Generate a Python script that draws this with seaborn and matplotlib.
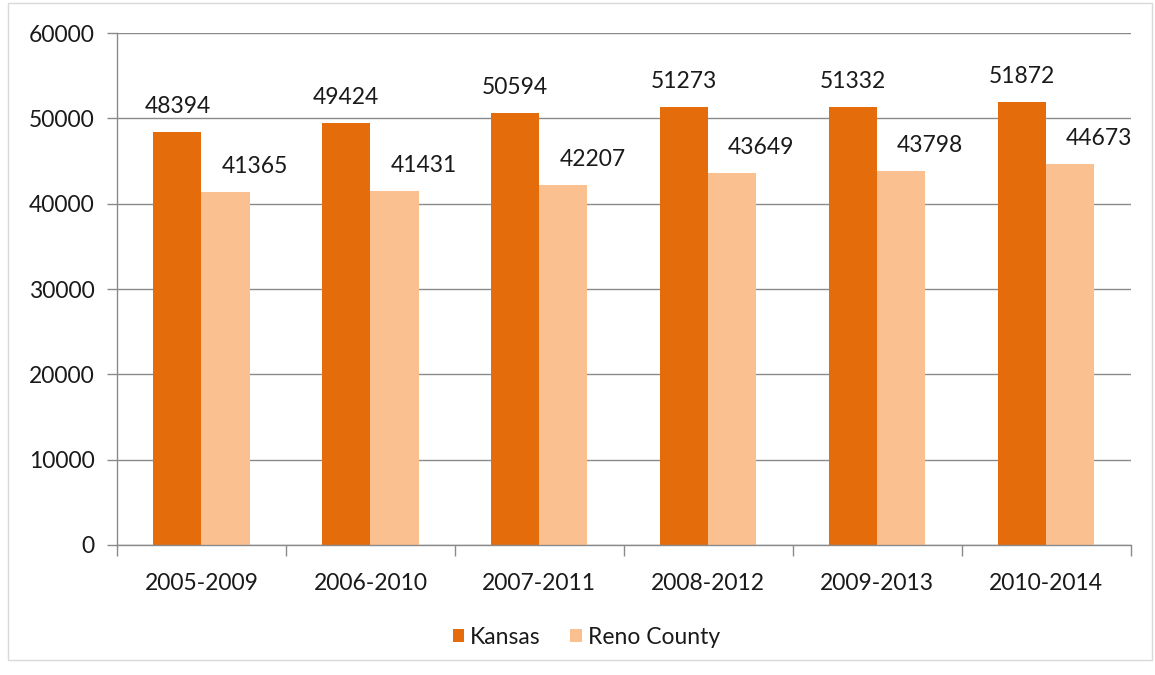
"""
Median household income: Kansas vs Reno County (5-year ACS periods).
"""

import matplotlib
matplotlib.use("Agg")
import matplotlib.pyplot as plt
import seaborn as sns
import pandas as pd
from matplotlib.patches import Rectangle

periods = ["2005-2009", "2006-2010", "2007-2011", "2008-2012", "2009-2013", "2010-2014"]
kansas = [48394, 49424, 50594, 51273, 51332, 51872]
reno = [41365, 41431, 42207, 43649, 43798, 44673]
series_names = ["Kansas", "Reno County"]
y_ticks = [0, 10000, 20000, 30000, 40000, 50000, 60000]

COLORS = {"Kansas": "#E46C0A", "Reno County": "#FAC090"}
TEXT = "#1a1a1a"
FS = 16.5

df = pd.DataFrame({
    "period": periods * 2,
    "value": kansas + reno,
    "series": [series_names[0]] * len(periods) + [series_names[1]] * len(periods),
})

sns.set_style("white")
plt.rcParams["font.family"] = ["Lato", "DejaVu Sans"]

fig = plt.figure(figsize=(11.55, 6.75), dpi=100)
ax = fig.add_axes([0.1013, 0.1926, 0.8775, 0.7585])

sns.barplot(data=df, x="period", y="value", hue="series", palette=COLORS,
            width=0.57, gap=0, ax=ax, saturation=1, legend=True, linewidth=0)

ax.set_ylim(0, 60000)
ax.set_xlim(-0.5, len(periods) - 0.5)
ax.set_yticks(y_ticks)
ax.set_yticklabels([str(t) for t in y_ticks], fontsize=FS, color=TEXT)
ax.yaxis.grid(True, color="#8a8a8a", linewidth=1)
ax.set_axisbelow(True)
ax.tick_params(axis="y", length=7, color="#8a8a8a", width=1, pad=9, left=True)

# category ticks between groups
ax.set_xticks(range(len(periods)))
ax.set_xticklabels(periods, fontsize=FS, color=TEXT)
ax.set_xticks([i - 0.5 for i in range(len(periods) + 1)], minor=True)
ax.tick_params(axis="x", which="major", length=0, pad=20)
ax.tick_params(axis="x", which="minor", length=8, color="#8a8a8a", width=1, bottom=True)

ax.set_xlabel("")
ax.set_ylabel("")
for side in ["top", "right"]:
    ax.spines[side].set_visible(False)
for side in ["left", "bottom"]:
    ax.spines[side].set_color("#8a8a8a")
    ax.spines[side].set_linewidth(1)

# value labels
for container, offset in zip(ax.containers, [0, 29]):
    for bar in container:
        h = bar.get_height()
        ax.annotate(f"{int(h)}", (bar.get_x() + bar.get_width() / 2, h),
                    xytext=(offset, 15), textcoords="offset pixels",
                    ha="center", va="bottom", fontsize=FS, color=TEXT)

leg = ax.legend(loc="center", bbox_to_anchor=(0.463, -0.18), ncol=2, frameon=False,
                fontsize=FS, handlelength=0.5, handleheight=0.5, handletextpad=0.25,
                columnspacing=1.3)
for t in leg.get_texts():
    t.set_color(TEXT)

# faint chart border
fig.patches.append(Rectangle((0.007, 0.022), 0.99, 0.973, transform=fig.transFigure,
                             fill=False, edgecolor="#d9d9d9", linewidth=1))

fig.savefig("out.png", dpi=100)
